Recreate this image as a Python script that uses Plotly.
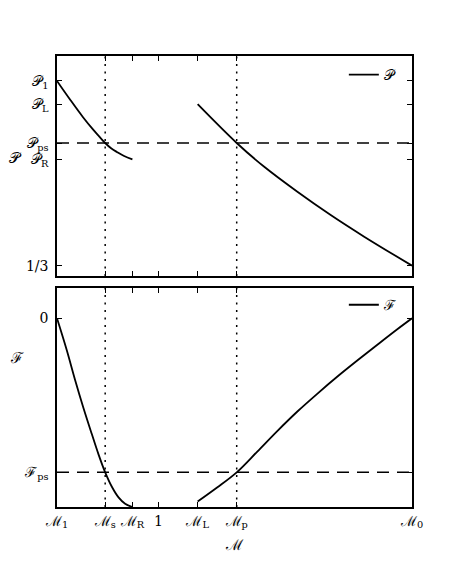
import plotly.graph_objects as go
from plotly.subplots import make_subplots

# ---- data ----
M_tick_vals = [0.40, 0.685, 0.846, 1.0, 1.232, 1.463, 2.50]
M_tick_text = ["ℳ<sub>1</sub>", "ℳ<sub>s</sub>", "ℳ<sub>R</sub>", "1",
               "ℳ<sub>L</sub>", "ℳ<sub>p</sub>", "ℳ<sub>0</sub>"]

P_tick_vals = [1.0, 0.916, 0.776, 0.717, 1.0 / 3.0]
P_tick_text = ["𝒫<sub>1</sub>", "𝒫<sub>L</sub>", "𝒫<sub>ps</sub>", "𝒫<sub>R</sub>", "1/3"]

F_tick_vals = [0.0, -0.2]
F_tick_text = ["0", "ℱ<sub>ps</sub>"]

M_s = 0.685
M_p = 1.463
P_ps = 0.776
F_ps = -0.2

# P, subsonic branch (M1 -> MR)
P_left_M = [0.400, 0.477, 0.554, 0.614, 0.649, 0.685, 0.720, 0.756, 0.797, 0.846]
P_left_P = [1.000, 0.933, 0.869, 0.824, 0.800, 0.776, 0.757, 0.743, 0.729, 0.717]
# P, supersonic branch (ML -> M0)
P_right_M = [1.232, 1.463, 1.624, 1.822, 2.019, 2.217, 2.500]
P_right_P = [0.916, 0.776, 0.691, 0.600, 0.516, 0.438, 1.0 / 3.0]

# F, subsonic branch
F_left_M = [0.400, 0.4575, 0.507, 0.556, 0.606, 0.645, 0.685, 0.7245, 0.764, 0.803, 0.846]
F_left_F = [0.000, -0.0412, -0.0801, -0.1161, -0.1503, -0.1763, -0.200, -0.2187, -0.2325, -0.2408, -0.245]
# F, supersonic branch
F_right_M = [1.232, 1.347, 1.463, 1.585, 1.703, 1.822, 1.941, 2.059, 2.178, 2.297, 2.415, 2.500]
F_right_F = [-0.2379, -0.2197, -0.200, -0.1730, -0.1464, -0.1210, -0.0977, -0.0756, -0.0545, -0.0340, -0.0139, 0.0]

M_range = [0.40, 2.50]
P_range = [0.296, 1.090]
F_range = [-0.245, 0.0394]

# ---- figure ----
FONT = "DejaVu Serif"
fig = make_subplots(rows=2, cols=1, shared_xaxes=True)

line = dict(color="black", width=1.8)
fig.add_trace(go.Scatter(x=P_left_M, y=P_left_P, mode="lines", line=line,
                         line_shape="spline", name="𝒫", legend="legend"), row=1, col=1)
fig.add_trace(go.Scatter(x=P_right_M, y=P_right_P, mode="lines", line=line,
                         line_shape="spline", showlegend=False), row=1, col=1)
fig.add_trace(go.Scatter(x=F_left_M, y=F_left_F, mode="lines", line=line,
                         line_shape="spline", name="ℱ", legend="legend2"), row=2, col=1)
fig.add_trace(go.Scatter(x=F_right_M, y=F_right_F, mode="lines", line=line,
                         line_shape="spline", showlegend=False), row=2, col=1)

axis_common = dict(showline=True, linecolor="black", linewidth=1.5, mirror="ticks",
                   ticks="inside", ticklen=5, tickwidth=1, tickcolor="black",
                   showgrid=False, zeroline=False,
                   tickfont=dict(family=FONT, size=14, color="black"))

# the page body adds an 8px offset, so margins are shifted by 8px
fig.update_layout(
    width=457, height=564,
    margin=dict(l=49, r=53, t=48, b=65),
    paper_bgcolor="white", plot_bgcolor="white",
    font=dict(family=FONT, size=14, color="black"),
    xaxis=dict(axis_common, range=M_range, tickvals=M_tick_vals, ticktext=M_tick_text,
               showticklabels=False, domain=[0, 1], anchor="y"),
    yaxis=dict(axis_common, range=P_range, tickvals=P_tick_vals, ticktext=P_tick_text,
               domain=[0.5122, 1.0], anchor="x", ticklabelstandoff=4),
    xaxis2=dict(axis_common, range=M_range, tickvals=M_tick_vals, ticktext=M_tick_text,
                showticklabels=True, domain=[0, 1], anchor="y2", ticklabelstandoff=0),
    yaxis2=dict(axis_common, range=F_range, tickvals=F_tick_vals, ticktext=F_tick_text,
                domain=[0.0, 0.4856], anchor="x2", ticklabelstandoff=4),
    legend=dict(x=0.808, y=0.9935, xanchor="left", yanchor="top",
                bgcolor="rgba(0,0,0,0)", font=dict(family=FONT, size=14)),
    legend2=dict(x=0.808, y=0.483, xanchor="left", yanchor="top",
                 bgcolor="rgba(0,0,0,0)", font=dict(family=FONT, size=14)),
)

dotted = dict(color="black", width=1.5, dash="2px,5.5px")
dashed = dict(color="black", width=1.5, dash="12px,8px")
for xv in (M_s, M_p):
    fig.add_shape(type="line", xref="x", yref="y domain", x0=xv, x1=xv, y0=0, y1=1, line=dotted)
    fig.add_shape(type="line", xref="x2", yref="y2 domain", x0=xv, x1=xv, y0=0, y1=1, line=dotted)
fig.add_shape(type="line", xref="x domain", yref="y", x0=0, x1=1, y0=P_ps, y1=P_ps, line=dashed)
fig.add_shape(type="line", xref="x2 domain", yref="y2", x0=0, x1=1, y0=F_ps, y1=F_ps, line=dashed)

# axis titles
fig.add_annotation(text="𝒫", xref="paper", yref="paper", x=-0.118, y=0.774,
                   showarrow=False, xanchor="center", yanchor="middle",
                   font=dict(family=FONT, size=15))
fig.add_annotation(text="ℱ", xref="paper", yref="paper", x=-0.113, y=0.330,
                   showarrow=False, xanchor="center", yanchor="middle",
                   font=dict(family=FONT, size=15))
fig.add_annotation(text="ℳ", xref="paper", yref="paper", x=0.501, y=-0.084,
                   showarrow=False, xanchor="center", yanchor="middle",
                   font=dict(family=FONT, size=15))

fig.write_html("out.html")
